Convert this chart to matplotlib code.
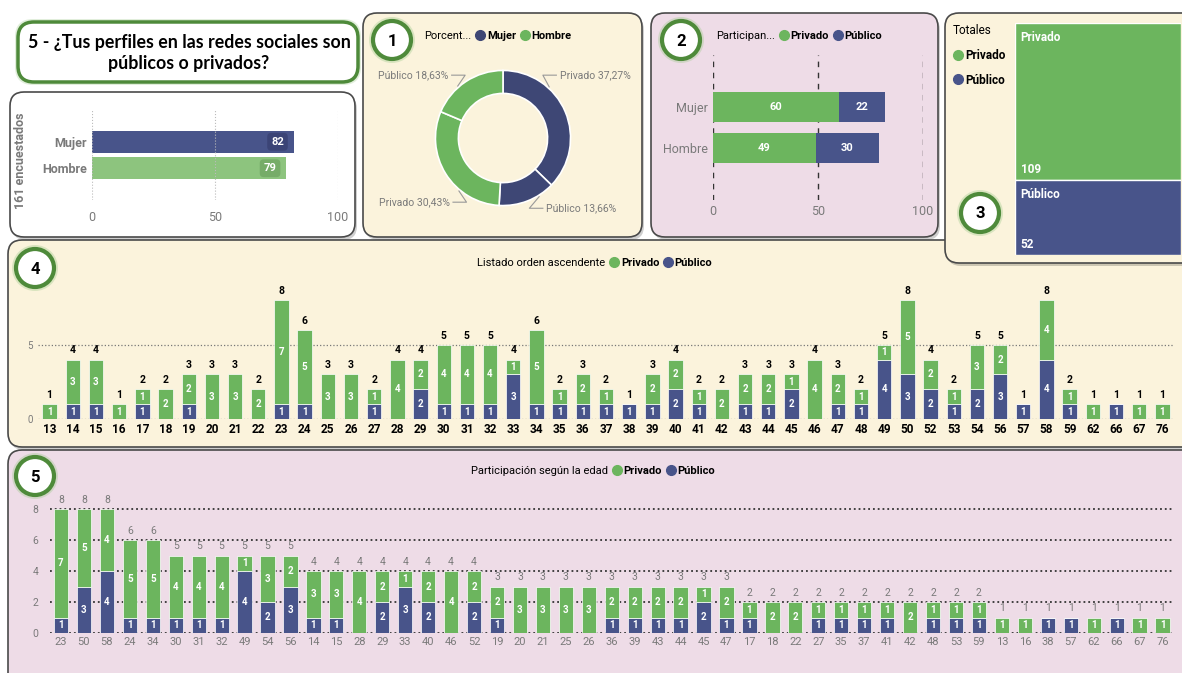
import numpy as np
from matplotlib import pyplot as plt
from matplotlib.patches import FancyBboxPatch, Circle
from matplotlib.lines import Line2D

plt.rcParams['font.family'] = ['Roboto', 'DejaVu Sans']

W, H = 1182, 673 # output size in pixels

VERDE = '#6CB55E'
VERDE_CLARO = '#8DC47E'
AZUL = '#48548A'
AZUL_OSCURO = '#3E4775'
CREMA = '#FBF3DC'
ROSA = '#EEDCE7'
GRIS = '#7A7A7A'
BORDE_VERDE = '#4E8A3A'

edades = [13, 14, 15, 16, 17, 18, 19, 20, 21, 22, 23, 24, 25, 26, 27, 28, 29, 30, 31, 32, 33, 34, 35, 36, 37,
          38, 39, 40, 41, 42, 43, 44, 45, 46, 47, 48, 49, 50, 52, 53, 54, 56, 57, 58, 59, 62, 66, 67, 76]
publico = [0, 1, 1, 0, 1, 0, 1, 0, 0, 0, 1, 1, 0, 0, 1, 0, 2, 1, 1, 1, 3, 1, 1, 1, 1,
           1, 1, 2, 1, 0, 1, 1, 2, 0, 1, 1, 4, 3, 2, 1, 2, 3, 1, 4, 1, 0, 1, 0, 0]
privado = [1, 3, 3, 1, 1, 2, 2, 3, 3, 2, 7, 5, 3, 3, 1, 4, 2, 4, 4, 4, 1, 5, 1, 2, 1,
           0, 2, 2, 1, 2, 2, 2, 1, 4, 2, 1, 1, 5, 2, 1, 3, 2, 0, 4, 1, 1, 0, 1, 1]

genero = {'Mujer': 82, 'Hombre': 79}
participa = {'Mujer': (60, 22), 'Hombre': (49, 30)} # (privado, publico)
totales = {'Privado': sum(privado), 'Público': sum(publico)}

fig = plt.figure(figsize=(W / 100, H / 100), dpi=100)

bg = fig.add_axes([0, 0, 1, 1]) # pixel canvas, origin top left
bg.set_xlim(0, W)
bg.set_ylim(H, 0)
bg.axis('off')


def caja(x0, y0, x1, y1):
    ax = fig.add_axes([x0 / W, 1 - y1 / H, (x1 - x0) / W, (y1 - y0) / H])
    ax.set_facecolor('none')
    return ax


def panel(x0, y0, x1, y1, color):
    bg.add_patch(FancyBboxPatch((x0 + 2, y0 + 3), x1 - x0, y1 - y0, boxstyle='round,pad=0,rounding_size=14',
                                fc='#00000030', ec='none')) # shadow
    bg.add_patch(FancyBboxPatch((x0, y0), x1 - x0, y1 - y0, boxstyle='round,pad=0,rounding_size=14',
                                fc=color, ec='#4A4A4A', lw=1.2))


def numero(n, x, y):
    bg.add_patch(Circle((x, y), 23, fc='#9CC98A', ec='none', alpha=0.35))
    bg.add_patch(Circle((x, y), 19, fc='white', ec=BORDE_VERDE, lw=3))
    bg.text(x, y + 1, str(n), ha='center', va='center', fontsize=12, fontweight='bold')


def leyenda(titulo, nombres, colores, x, y):
    handles = [Line2D([], [], ls='none')] + [Line2D([], [], ls='none', marker='o', ms=7, color=c) for c in colores]
    leg = fig.legend(handles, [titulo] + nombres, ncol=len(handles), loc='center left', bbox_to_anchor=(x - 11, y),
                     bbox_transform=bg.transData, frameon=False, handlelength=0.8, handletextpad=0.2,
                     columnspacing=0.4, fontsize=8, borderpad=0, borderaxespad=0)
    for t in leg.get_texts()[1:]:
        t.set_fontweight('bold')


def barras(ax, idx, color_total, peso_total):
    x = np.arange(len(idx))
    pub = np.array([publico[i] for i in idx])
    pri = np.array([privado[i] for i in idx])
    ax.bar(x, pub, width=0.62, color=AZUL, edgecolor='white', linewidth=0.5)
    ax.bar(x, pri, bottom=pub, width=0.62, color=VERDE, edgecolor='white', linewidth=0.5)
    for xi, p, q in zip(x, pub, pri):
        if p:
            ax.text(xi, p / 2, str(p), ha='center', va='center', color='white', fontsize=7, fontweight='bold')
        if q:
            ax.text(xi, p + q / 2, str(q), ha='center', va='center', color='white', fontsize=7, fontweight='bold')
        ax.annotate(str(p + q), (xi, p + q), xytext=(0, 3), textcoords='offset points', ha='center', va='bottom',
                    fontsize=7.5, color=color_total, fontweight=peso_total)
    ax.set_xticks(x, [edades[i] for i in idx])
    ax.set_xlim(-0.5, len(idx) - 0.5)
    for s in ax.spines.values():
        s.set_visible(False)
    ax.set_axisbelow(True)


# panels
panel(10, 92, 355, 237, 'white')
panel(363, 13, 642, 237, CREMA)
panel(651, 13, 938, 237, ROSA)
panel(8, 240, 1200, 447, CREMA)
panel(945, 13, 1200, 263, CREMA) # sits over the top of panel 4
panel(8, 450, 1200, 690, ROSA)

# title
bg.add_patch(FancyBboxPatch((15, 19), 346, 66, boxstyle='round,pad=0,rounding_size=18', fc='#9CC98A', ec='none', alpha=0.3))
bg.add_patch(FancyBboxPatch((18, 22), 340, 60, boxstyle='round,pad=0,rounding_size=16', fc='white', ec=BORDE_VERDE, lw=2.5))
bg.text(189, 53, '5 - ¿Tus perfiles en las redes sociales son\npúblicos o privados?', ha='center', va='center',
        fontsize=12.8, fontweight='bold', linespacing=1.3, family=['Lato', 'DejaVu Sans'])

# encuestados por genero
ax = caja(92, 110, 338, 200)
ax.barh([1, 0], list(genero.values()), height=0.83, color=[AZUL, VERDE_CLARO])
for y, v, c in zip([1, 0], genero.values(), ['#3B4476', '#76AC68']):
    ax.text(v - 4, y, str(v), ha='right', va='center', color='white', fontsize=8, fontweight='bold',
            bbox=dict(boxstyle='round,pad=0.35', fc=c, ec='none'))
ax.set_xlim(0, 100)
ax.set_ylim(-1.2, 2.2)
ax.set_xticks([0, 50, 100])
ax.set_yticks([1, 0], list(genero.keys()), fontweight='bold')
ax.grid(axis='x', ls=':', color='#BBBBBB')
for s in ax.spines.values():
    s.set_visible(False)
ax.tick_params(length=0, labelsize=9, colors=GRIS)
ax.tick_params(axis='x', pad=8)
ax.set_ylabel('161 encuestados', fontsize=9, fontweight='bold', color=GRIS)
ax.yaxis.set_label_coords(-0.264, 0.44)

# 1 - donut
numero(1, 392, 40)
leyenda('Porcent...', ['Mujer', 'Hombre'], [AZUL_OSCURO, VERDE], 424, 36)
ax = caja(403, 38, 603, 238)
valores = [participa['Mujer'][0], participa['Mujer'][1], participa['Hombre'][0], participa['Hombre'][1]]
nombres = ['Privado', 'Público', 'Privado', 'Público']
ax.pie(valores, colors=[AZUL_OSCURO] * 2 + [VERDE] * 2, startangle=90, counterclock=False,
       wedgeprops=dict(width=0.34, edgecolor='white', linewidth=1.2))
ax.set_xlim(-1.48, 1.48)
ax.set_ylim(-1.48, 1.48)
posiciones = [(0.84, 0.93), (0.64, -1.04), (-0.79, -0.95), (-0.81, 0.93)] # label anchors
for v, n, (tx, ty) in zip(valores, nombres, posiciones):
    s = 1 if tx > 0 else -1
    a = np.arctan2(ty, tx)
    ax.plot([1.02 * np.cos(a), tx - s * 0.25, tx - s * 0.05], [1.02 * np.sin(a), ty, ty], color='#999999', lw=0.8,
            clip_on=False)
    pct = f'{v / sum(valores) * 100:.2f}'.replace('.', ',')
    ax.text(tx, ty, f'{n} {pct}%', ha='left' if s > 0 else 'right', va='center', fontsize=7.5, color=GRIS)

# 2 - participantes
numero(2, 681, 40)
leyenda('Participan...', ['Privado', 'Público'], [VERDE, AZUL], 716, 36)
ax = caja(713, 55, 923, 200)
pri = [v[0] for v in participa.values()]
pub = [v[1] for v in participa.values()]
ax.barh([1, 0], pri, height=0.75, color=VERDE)
ax.barh([1, 0], pub, left=pri, height=0.75, color=AZUL)
for y, a, b in zip([1, 0], pri, pub):
    ax.text(a / 2, y, str(a), ha='center', va='center', color='white', fontsize=8, fontweight='bold')
    ax.text(a + b / 2, y, str(b), ha='center', va='center', color='white', fontsize=8, fontweight='bold')
ax.set_xlim(0, 100)
ax.set_ylim(-1.31, 2.31)
ax.set_xticks([0, 50, 100])
ax.set_yticks([1, 0], list(participa.keys()))
ax.grid(axis='x', ls=(0, (4, 4)), color='#333333', lw=1)
ax.set_axisbelow(True)
for s in ax.spines.values():
    s.set_visible(False)
ax.tick_params(length=0, labelsize=9, colors=GRIS)

# 3 - totales
numero(3, 980, 213)
handles = [Line2D([], [], ls='none', marker='o', ms=7, color=c) for c in [VERDE, AZUL]]
leg = fig.legend(handles, list(totales.keys()), title='Totales', loc='upper left', bbox_to_anchor=(953, 24),
                 bbox_transform=bg.transData, alignment='left', frameon=False, handlelength=0.8, handletextpad=0.2,
                 labelspacing=1.0, fontsize=8.5, title_fontsize=8.5, borderpad=0, borderaxespad=0)
for t in leg.get_texts():
    t.set_fontweight('bold')
ax = caja(1015, 23, 1181, 255)
abajo = np.cumsum([0] + list(totales.values())[:-1])
ax.bar(0.5, list(totales.values()), bottom=abajo, width=1, color=[VERDE, AZUL], edgecolor='white', linewidth=1)
for (n, v), b in zip(totales.items(), abajo):
    ax.annotate(n, (0, b), xytext=(4, -6), textcoords='offset points', va='top', color='white', fontsize=8.5,
                fontweight='bold')
    ax.annotate(str(v), (0, b + v), xytext=(4, 3), textcoords='offset points', va='bottom', color='white',
                fontsize=8.5, fontweight='bold')
ax.set_xlim(0, 1)
ax.set_ylim(sum(totales.values()), 0)
ax.axis('off')

# 4 - orden ascendente
numero(4, 35, 268)
leyenda('Listado orden ascendente', ['Privado', 'Público'], [VERDE, AZUL], 477, 263)
ax = caja(38, 281, 1174, 419)
barras(ax, list(range(len(edades))), 'black', 'bold')
ax.set_ylim(0, 9.3)
ax.set_yticks([0, 5])
ax.grid(axis='y', ls=':', color='#777777', lw=0.9)
ax.tick_params(axis='y', length=0, labelsize=7, colors=GRIS)
ax.tick_params(axis='x', length=0, labelsize=8.5, pad=3)
for t in ax.get_xticklabels():
    t.set_fontweight('bold')

# 5 - participacion segun la edad
numero(5, 35, 476)
leyenda('Participación según la edad', ['Privado', 'Público'], [VERDE, AZUL], 471, 471)
ax = caja(49.5, 499.7, 1174, 633)
orden = sorted(range(len(edades)), key=lambda i: -(publico[i] + privado[i]))
barras(ax, orden, GRIS, 'normal')
ax.set_ylim(0, 8.6)
ax.set_yticks([0, 2, 4, 6, 8])
ax.grid(axis='y', ls=':', color='#333333', lw=1.3)
ax.tick_params(axis='y', length=0, labelsize=7.5, colors=GRIS, pad=8)
ax.tick_params(axis='x', length=0, labelsize=8, colors=GRIS, pad=3)

plt.savefig('out.png', dpi=100)
